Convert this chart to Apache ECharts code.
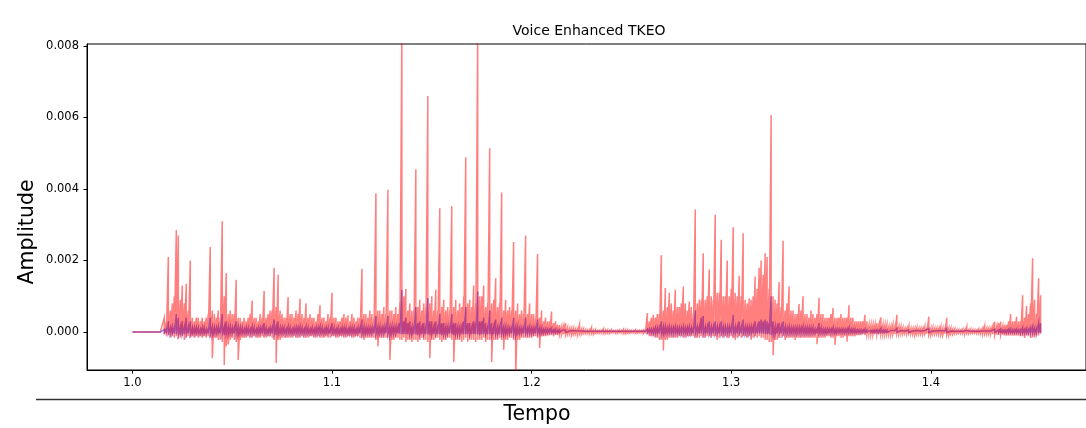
<!DOCTYPE html>
<html>
<head>
<meta charset="utf-8">
<script src="https://cdn.jsdelivr.net/npm/echarts@6/dist/echarts.min.js"></script>
<style>
html,body{margin:0;padding:0;background:#fff;}
#chart{width:1086px;height:428px;}
</style>
</head>
<body>
<div id="chart"></div>
<script>
// Signal sampled every 1 ms from t = 1.0 s; for each sample the upper and lower extent of the trace
const tStart = 1.0;
const tStep = 0.001;
// Amplitudes in units of 1e-4
const redHi = [
0,0,0,0,0,0,0,0,0,0,
0,0,0,0,0,0,4,3,21,6,
8,10,28.5,27,9,13,8,13.5,6,20,
4,3,4,4,3,4,3,4,5,23.8,
6,5,4,6,4,31,10,16.5,5,6,
5,5,14.6,4,4,3,4,3,4,5,
8.8,4,4,3,5,4,11.5,4,5,6,
6,18,7,16,6,5,4,4,9.8,5,
5,4,6,5,9.3,5,4,8,4,5,
4,4,3,5,7.5,4,4,3,5,4,
11,4,4,3,3,4,5,4,4.7,3,
5,4,3,4,4,17.7,5,5,4,6,
5,4,38.8,6,6,5,7,5,39.8,6,
6,5,7,5,8,85,10,12,6,8,
6,6,45.5,7,9,6,8,7,66,8,
10,6,11.8,6,34.6,7,9,6,7,6,
35.2,7,9,6,8,7,10,48.9,8,9,
7,13,8,85,10,10,13,7,8,51.4,
8,9,15,7,8,39,6,9,6,7,
6,25.2,6,8,5,6,5,27,5,8,
5,5,4,21.8,4,6,3,4,3,3,
5.7,2.5,3,2,2,1.5,1.5,2.5,1.2,1,
1,1,0.8,0.8,2,0.8,0.8,0.6,0.5,0.5,
1.2,0.5,0.6,0.4,0.4,0.4,0.9,0.5,0.5,0.4,
0.6,0.4,0.4,0.4,0.5,0.4,0.7,0.5,0.5,0.4,
0.4,0.4,0.6,0.4,0.4,0.4,0.5,0.6,5.3,3,
4,4.8,4,5,5,21.5,6,12.3,7,11,
8,6,11.8,7,7,8,12.7,8,6,8.5,
7,5,34.3,8,9,9,22,9,10,17.5,
10,9,32.8,11,11,25.8,10,10,20,10,
12,29.3,11,10,15.7,10,27.6,9,8,9.4,
9,10,15.5,12,18,20,16,22,21,12,
60.7,10,9,8,14,7,25.5,6,8,12.7,
6,6,5,5,7.8,6,10,5,5,4,
6,5,4,5,9.6,5,5,4,4,4,
5,6.7,4,4,4,5,4,4,4,7.5,
4,4,3,3,3,3,3,4.8,3,2,
2,2,2,2.5,2,4.1,2,2,2,1.5,
1.5,2,1.5,4.8,1.5,1.5,1.2,1,1,1.7,
1,1,1,1.2,1,1,1,1.5,1,4.3,
1,1.2,1,1,1,1.5,1,1,4,1,
1,0.8,0.8,0.6,0.6,0.5,0.8,0.6,1.5,0.6,
0.7,0.6,0.6,0.5,0.8,0.6,1,1.7,1,1,
1,1.5,2.9,1.5,2.5,2.9,1.5,2,2,3,
5,3,3,4.3,3,3,10.3,4,7.3,5,
8,20.6,9,5,15,10.3
];
const redLo = [
0,0,0,0,0,0,0,0,0,0,
0,0,0,0,0,0,-0.6,-1.2,-0.8,-1.6,
-1.2,-1.6,-1.2,-2,-1.6,-1.2,-2.2,-1.6,-1.2,-1.6,
-1.2,-1.6,-1.2,-1.6,-1.2,-1.6,-1.2,-1.6,-1.2,-1.6,
-7.3,-1.6,-1.6,-2.2,-2.2,-2.8,-9.2,-4,-3.5,-2.2,
-1.6,-2.2,-2.8,-7.8,-2.2,-1.6,-1.6,-1.6,-1.2,-1.6,
-1.6,-1.2,-1.6,-1.6,-1.6,-1.2,-1.6,-1.6,-1.2,-1.2,
-1.6,-2.2,-8.7,-2.2,-2.2,-1.6,-1.6,-1.6,-1.6,-1.6,
-1.6,-1.2,-1.6,-1.6,-1.6,-1.2,-1.6,-1.6,-1.6,-1.2,
-1.2,-1.6,-1.6,-1.2,-1.6,-1.6,-1.6,-1.2,-1.6,-1.6,
-1.2,-1.2,-1.6,-1.6,-1.2,-1.2,-1.6,-1.6,-1.2,-1.2,
-1.6,-1.6,-1.2,-1.2,-1.6,-1.6,-2.2,-1.6,-1.6,-1.6,
-1.6,-1.6,-2.2,-4,-1.6,-1.6,-1.6,-1.6,-1.6,-7.8,
-2.2,-2.2,-1.6,-1.6,-2.2,-2.2,-1.6,-2.8,-2.2,-2.2,
-2.8,-2.2,-2.2,-2.8,-2.2,-1.6,-2.2,-2.2,-2.8,-7.3,
-2.2,-2.2,-1.6,-1.6,-2.2,-2.8,-2.2,-2.2,-1.6,-1.6,
-2.2,-8.4,-2.2,-2.2,-2.2,-2.8,-2.2,-1.6,-2.7,-2.2,
-2.2,-2.2,-2.8,-2.2,-2.2,-2.2,-1.6,-2.8,-2.2,-2.2,
-8.4,-2.2,-2.2,-2.2,-1.6,-2.2,-5,-2.2,-2.2,-1.6,
-1.6,-2.2,-13,-2.2,-2.2,-1.6,-1.6,-1.6,-1.6,-1.6,
-1.6,-1.2,-1.2,-1.6,-4.5,-1.2,-1.2,-1.2,-1,-0.9,
-0.9,-1.2,-0.8,-0.9,-0.7,-0.7,-0.6,-0.7,-0.6,-0.5,
-0.8,-0.6,-0.5,-0.5,-0.6,-0.5,-0.4,-0.4,-0.4,-0.3,
-0.5,-0.5,-0.3,-0.3,-0.3,-0.2,-0.4,-0.4,-0.3,-0.3,
-0.2,-0.2,-0.3,-0.3,-0.2,-0.2,-0.4,-0.4,-0.3,-0.3,
-0.2,-0.2,-0.3,-0.3,-0.2,-0.2,-0.4,-0.4,-0.6,-1.2,
-1.2,-1.2,-1.6,-1.6,-2.2,-2.2,-5.2,-2.2,-2.2,-1.6,
-1.6,-1.6,-1.6,-1.6,-1.2,-1.2,-1.6,-1.6,-1.2,-1.2,
-1.2,-1.2,-1.6,-1.6,-1.6,-1.2,-1.6,-1.6,-1.2,-1.2,
-1.6,-1.2,-1.2,-2.2,-1.6,-1.2,-1.6,-1.2,-1.6,-1.6,
-1.2,-1.6,-2.2,-1.6,-1.2,-1.6,-1.2,-1.2,-1.6,-1.2,
-2.2,-1.6,-1.2,-1.6,-1.2,-1.6,-1.6,-2.2,-2.2,-2.8,
-2.8,-6.5,-2.2,-2.2,-1.6,-1.6,-1.2,-2.2,-1.6,-1.6,
-1.6,-1.6,-2.2,-1.6,-1.6,-1.6,-1.6,-1.6,-1.6,-1.6,
-1.6,-1.6,-1.6,-3.4,-1.6,-1.6,-1.6,-1.6,-1.2,-1.2,
-1.6,-1.6,-3.6,-1.2,-1.2,-1.6,-1.6,-1.2,-2.7,-1.2,
-1.2,-1.2,-1.2,-0.9,-0.9,-0.9,-0.6,-0.9,-0.6,-0.6,
-0.6,-0.6,-0.6,-0.6,-0.6,-0.6,-0.6,-0.6,-0.6,-0.6,
-0.6,-0.6,-0.6,-0.5,-0.5,-0.5,-0.5,-0.4,-0.4,-0.4,
-0.5,-0.6,-0.8,-0.5,-0.5,-0.5,-0.5,-0.5,-0.5,-0.8,
-0.8,-0.5,-0.5,-0.5,-0.5,-0.8,-0.8,-0.5,-0.8,-0.8,
-0.5,-0.5,-0.4,-0.4,-0.3,-0.3,-0.4,-0.4,-0.4,-0.4,
-0.3,-0.3,-0.3,-0.3,-0.4,-0.4,-0.5,-0.5,-0.5,-0.5,
-0.5,-0.6,-0.8,-0.8,-0.8,-0.8,-0.8,-1,-1,-1,
-1,-1,-1,-1,-1,-1.2,-1.2,-1.7,-1,-1,
-1.7,-1.5,-1.5,-1,-1,-0.5
];
const blueHi = [
0,0,0,0,0,0,0,0,0,0,
0,0,0,0,0,0,0.8,0.8,3,1.2,
1.5,1.2,5,4,1.5,3,1.5,4,1.5,3,
1.2,1.2,1.2,1.2,0.8,1.2,1.2,0.8,0.8,4,
1.5,1.2,1.2,1.5,1.2,5,1.5,3,1.5,1.5,
1.2,1.2,3,1.5,1.2,1.2,0.8,1.2,1.2,0.8,
1.5,1.2,0.8,1.2,1.2,1.2,2.5,1.2,0.8,1.2,
1.2,3.5,1.5,3,1.2,1.2,1.2,0.8,1.5,1.2,
0.8,1.2,1.2,1.2,1.5,1.2,0.8,1.5,1.2,0.8,
1.2,0.8,1.2,1.2,1.5,1.2,0.8,1.2,1.2,0.8,
2.5,1.2,0.8,1.2,0.8,1.2,1.2,1.2,0.8,1.2,
1.2,1.2,0.8,1.2,1.2,3.5,1.5,1.2,1.2,1.2,
1.2,1.2,4.5,1.5,1.5,1.2,1.5,1.5,4.5,1.5,
1.5,1.5,1.5,1.5,2.5,11.8,3,4,2.5,3,
1.5,1.5,7,2.5,3,1.5,2.5,1.5,9.5,3,
3,1.5,3,1.5,5,2.5,2.5,1.5,1.5,1.5,
5,2.5,2.5,1.5,1.5,1.5,3,7,2.5,2.5,
1.5,3,2.5,11.3,3,3,4,2.5,1.5,6,
2.5,1.5,3.5,1.5,1.5,4,1.5,1.5,1.2,1.2,
1.2,4,1.5,1.5,1.2,1.2,1.2,4,1.2,1.5,
1.2,1.2,1.2,3.5,1.2,1.2,0.8,0.8,0.8,0.8,
1,0.6,0.8,0.5,0.6,0.4,0.4,0.6,0.3,0.3,
0.4,0.4,0.3,0.3,0.6,0.3,0.3,0.2,0.2,0.2,
0.4,0.2,0.2,0.2,0.2,0.2,0.3,0.2,0.2,0.2,
0.2,0.2,0.2,0.2,0.2,0.2,0.3,0.2,0.2,0.2,
0.2,0.2,0.2,0.2,0.2,0.2,0.2,0.2,0.8,0.8,
0.8,0.8,1.2,1.2,1.2,3,1.5,1.5,1.2,1.5,
1.2,1.2,1.5,1.2,1.2,1.2,1.5,1.2,1.2,1.5,
1.2,1.2,6,1.5,1.5,4,4.5,1.5,1.5,3,
1.5,1.5,3,1.5,1.5,3,1.5,1.5,1.5,1.5,
1.5,4.8,1.5,1.5,3,1.5,3.5,1.5,1.5,1.5,
1.5,1.5,3,1.5,3,3.5,3,3.5,3,2.5,
10,3,1.5,1.5,2.5,1.5,3,1.5,1.2,1.5,
1.2,1.2,1.2,1.2,1.2,1.2,1.5,1.2,1.2,1.2,
1.2,1.2,0.8,0.8,2.5,1.2,0.8,0.8,0.8,0.8,
0.8,1.2,0.8,0.8,0.8,0.8,0.8,0.8,0.8,1.2,
0.8,0.8,0.8,0.6,0.6,0.6,0.5,0.8,0.5,0.4,
0.5,0.5,0.5,0.6,0.5,1,0.5,0.5,0.5,0.4,
0.4,0.5,0.4,1,0.4,0.4,0.3,0.3,0.3,0.5,
0.3,0.3,0.3,0.4,0.3,0.3,0.3,0.4,0.3,1,
0.3,0.3,0.3,0.3,0.3,0.4,0.3,0.3,1,0.3,
0.3,0.2,0.2,0.2,0.2,0.2,0.2,0.2,0.4,0.2,
0.2,0.2,0.2,0.2,0.2,0.2,0.3,0.5,0.3,0.3,
0.3,0.4,0.8,0.4,0.6,0.8,0.5,0.5,0.5,0.8,
0.8,0.6,0.6,0.8,0.6,0.6,1.2,0.8,1,0.8,
1.2,1.5,1.2,1,2.5,2.5
];
const blueLo = [
0,0,0,0,0,0,0,0,0,0,
0,0,0,0,0,0,-0.2,-0.4,-0.4,-0.4,
-0.4,-0.5,-0.6,-0.6,-0.9,-0.6,-0.6,-0.6,-0.4,-0.6,
-0.4,-0.4,-0.4,-0.4,-0.4,-0.4,-0.4,-0.4,-0.4,-0.6,
-0.9,-0.4,-0.4,-0.4,-0.4,-0.6,-0.9,-0.6,-0.6,-0.4,
-0.4,-0.4,-0.6,-0.9,-0.4,-0.4,-0.4,-0.4,-0.4,-0.4,
-0.4,-0.4,-0.4,-0.4,-0.4,-0.4,-0.4,-0.4,-0.4,-0.4,
-0.4,-0.6,-0.9,-0.6,-0.4,-0.4,-0.4,-0.4,-0.4,-0.4,
-0.4,-0.4,-0.4,-0.4,-0.4,-0.4,-0.4,-0.4,-0.4,-0.4,
-0.4,-0.4,-0.4,-0.4,-0.4,-0.4,-0.4,-0.4,-0.4,-0.4,
-0.4,-0.4,-0.4,-0.4,-0.4,-0.4,-0.4,-0.4,-0.4,-0.4,
-0.4,-0.4,-0.4,-0.4,-0.4,-0.6,-0.6,-0.4,-0.4,-0.4,
-0.4,-0.4,-0.6,-0.6,-0.4,-0.4,-0.4,-0.4,-0.6,-0.9,
-0.4,-0.4,-0.4,-0.4,-0.6,-0.6,-0.6,-0.6,-0.6,-0.6,
-0.6,-0.6,-0.6,-0.9,-0.6,-0.6,-0.6,-0.6,-0.6,-0.9,
-0.6,-0.6,-0.6,-0.6,-0.6,-0.9,-0.6,-0.6,-0.4,-0.4,
-0.6,-0.9,-0.6,-0.6,-0.6,-0.6,-0.6,-0.6,-0.6,-0.6,
-0.6,-0.6,-0.6,-0.6,-0.9,-0.6,-0.6,-0.6,-0.6,-0.6,
-0.9,-0.6,-0.6,-0.6,-0.6,-0.6,-0.6,-0.6,-0.4,-0.4,
-0.4,-0.6,-1,-0.4,-0.4,-0.4,-0.4,-0.4,-0.4,-0.4,
-0.4,-0.4,-0.4,-0.4,-0.4,-0.4,-0.4,-0.3,-0.2,-0.2,
-0.2,-0.2,-0.2,-0.2,-0.2,-0.1,-0.1,-0.1,-0.1,-0.1,
-0.1,-0.1,-0.1,-0.1,-0.1,-0.1,-0.1,-0.1,-0.1,-0.1,
-0.1,-0.1,-0.1,-0.1,-0.1,-0.1,-0.1,-0.1,-0.1,-0.1,
-0.1,-0.1,-0.1,-0.1,-0.1,-0.1,-0.1,-0.1,-0.1,-0.1,
-0.1,-0.1,-0.1,-0.1,-0.1,-0.1,-0.1,-0.1,-0.2,-0.2,
-0.4,-0.4,-0.4,-0.4,-0.4,-0.6,-0.6,-0.4,-0.4,-0.4,
-0.4,-0.4,-0.4,-0.4,-0.4,-0.4,-0.4,-0.4,-0.4,-0.4,
-0.4,-0.4,-0.4,-0.4,-0.4,-0.4,-0.4,-0.4,-0.4,-0.4,
-0.4,-0.4,-0.4,-0.4,-0.4,-0.4,-0.4,-0.4,-0.4,-0.4,
-0.4,-0.4,-0.4,-0.4,-0.4,-0.4,-0.4,-0.4,-0.4,-0.4,
-0.4,-0.4,-0.4,-0.4,-0.4,-0.4,-0.4,-0.6,-0.6,-0.6,
-0.9,-0.9,-0.6,-0.4,-0.4,-0.4,-0.4,-0.4,-0.4,-0.4,
-0.4,-0.4,-0.4,-0.4,-0.4,-0.4,-0.4,-0.4,-0.4,-0.4,
-0.4,-0.4,-0.4,-0.4,-0.4,-0.4,-0.4,-0.4,-0.3,-0.2,
-0.3,-0.3,-0.4,-0.2,-0.2,-0.2,-0.2,-0.2,-0.2,-0.2,
-0.2,-0.2,-0.2,-0.2,-0.2,-0.2,-0.1,-0.1,-0.1,-0.1,
-0.1,-0.1,-0.1,-0.1,-0.1,-0.1,-0.1,-0.1,-0.1,-0.1,
-0.1,-0.1,-0.1,-0.1,-0.1,-0.1,-0.1,-0.1,-0.1,-0.1,
-0.1,-0.1,-0.1,-0.1,-0.1,-0.1,-0.1,-0.1,-0.1,-0.1,
-0.1,-0.1,-0.1,-0.1,-0.1,-0.1,-0.1,-0.1,-0.1,-0.1,
-0.1,-0.1,-0.1,-0.1,-0.1,-0.1,-0.1,-0.1,-0.1,-0.1,
-0.1,-0.1,-0.1,-0.1,-0.1,-0.1,-0.1,-0.1,-0.1,-0.1,
-0.1,-0.1,-0.1,-0.1,-0.1,-0.1,-0.1,-0.2,-0.2,-0.2,
-0.2,-0.2,-0.2,-0.2,-0.2,-0.3,-0.3,-0.3,-0.3,-0.3,
-0.3,-0.3,-0.3,-0.2,-0.3,-0.2
];
const xTicks = [1.0, 1.1, 1.2, 1.3, 1.4];
const yTicks = [0, 0.002, 0.004, 0.006, 0.008];
const titleText = 'Voice Enhanced TKEO';
const xName = 'Tempo';
const yName = 'Amplitude';

// trace path: at each sample go to the upper extent, then down to the lower extent
function tracePoints(hi, lo) {
  const pts = [];
  const n = Math.min(hi.length, lo.length);
  for (let i = 0; i < n; i++) {
    const t = tStart + i * tStep;
    pts.push([t, hi[i] * 1e-4]);
    pts.push([t, lo[i] * 1e-4]);
  }
  return pts;
}

const FONT = 'DejaVu Sans';
const chart = echarts.init(document.getElementById('chart'), null, {renderer: 'canvas'});
chart.setOption({
  animation: false,
  backgroundColor: '#fff',
  grid: {left: 87, right: -6, top: 44, bottom: 58, show: true, borderColor: '#000', borderWidth: 1, backgroundColor: 'transparent'},
  xAxis: {
    type: 'value', min: 0.97725, max: 1.47775,
    splitLine: {show: false},
    axisLine: {show: true, onZero: false, lineStyle: {color: '#000', width: 1}},
    axisTick: {show: true, length: 3.5, customValues: xTicks, lineStyle: {color: '#000'}},
    axisLabel: {customValues: xTicks, formatter: v => v.toFixed(1), fontFamily: FONT, fontSize: 11.5, color: '#000', margin: 7}
  },
  yAxis: {
    type: 'value', min: -0.001063, max: 0.008056,
    splitLine: {show: false},
    axisLine: {show: true, onZero: false, lineStyle: {color: '#000', width: 1}},
    axisTick: {show: true, length: 3.5, customValues: yTicks, lineStyle: {color: '#000'}},
    axisLabel: {customValues: yTicks, formatter: v => v.toFixed(3), fontFamily: FONT, fontSize: 11.5, color: '#000', margin: 8}
  },
  series: [
    {type: 'line', data: tracePoints(blueHi, blueLo), showSymbol: false, symbol: 'none', sampling: null,
     lineStyle: {color: 'rgba(0,0,255,0.5)', width: 1.5, join: 'miter'}, z: 2},
    {type: 'line', data: tracePoints(redHi, redLo), showSymbol: false, symbol: 'none', sampling: null,
     lineStyle: {color: 'rgba(255,0,0,0.5)', width: 1.5, join: 'miter'}, z: 3}
  ],
  graphic: [
    {type: 'text', x: 589, y: 31, style: {text: titleText, font: '14px "DejaVu Sans"', fill: '#000', align: 'center', verticalAlign: 'middle'}},
    {type: 'text', x: 28, y: 232, rotation: Math.PI / 2, style: {text: yName, font: '20.5px "DejaVu Sans"', fill: '#000', align: 'center', verticalAlign: 'middle'}},
    {type: 'text', x: 537, y: 415, style: {text: xName, font: '20.5px "DejaVu Sans"', fill: '#000', align: 'center', verticalAlign: 'middle'}},
    {type: 'line', shape: {x1: 36, y1: 399.5, x2: 1086, y2: 399.5}, style: {stroke: '#333', lineWidth: 1.3}}
  ]
});
</script>
</body>
</html>
